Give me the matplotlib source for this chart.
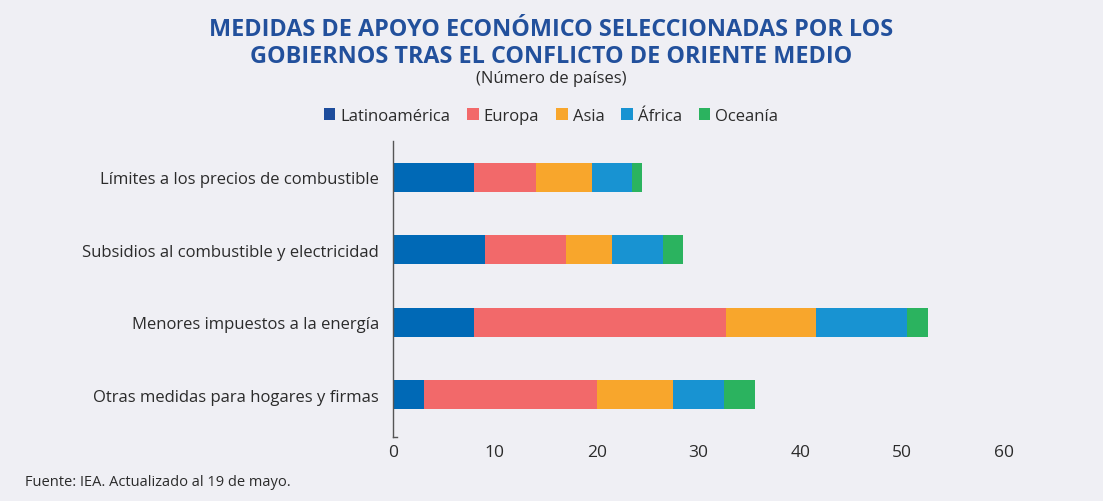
import numpy as np
import matplotlib.pyplot as plt
from matplotlib.patches import Patch

# -----------------------------
# DATA (número de países)
# -----------------------------
medidas = [
    "Límites a los precios de combustible",
    "Subsidios al combustible y electricidad",
    "Menores impuestos a la energía",
    "Otras medidas para hogares y firmas",
]
regiones = ["Latinoamérica", "Europa", "Asia", "África", "Oceanía"]

latinoamerica = [8, 9, 8, 3]
europa = [6, 8, 24.7, 17]
asia = [5.5, 4.5, 8.8, 7.5]
africa = [4, 5, 9, 5]
oceania = [1, 2, 2, 3]

x_ticks = [0, 10, 20, 30, 40, 50, 60]

# -----------------------------
# STYLE
# -----------------------------
bg = "#efeff4"
bar_colors = ["#0069b6", "#f2696a", "#f8a62c", "#1893d2", "#2bb35f"]
legend_colors = ["#1d4c9c", "#f2696a", "#f8a62c", "#1893d2", "#2bb35f"]
title_color = "#22509c"
text_color = "#2b2b2b"
plt.rcParams["font.family"] = ["Open Sans", "DejaVu Sans"]

fig = plt.figure(figsize=(11.03, 5.02), dpi=100, facecolor=bg)
ax = fig.add_axes([393 / 1103, 1 - 438 / 502, (1004 - 393) / 1103, (438 - 142) / 502])
ax.set_facecolor(bg)

series = [latinoamerica, europa, asia, africa, oceania]
y = np.arange(len(medidas))
left = np.zeros(len(medidas))
for vals, col in zip(series, bar_colors):
    ax.barh(y, vals, left=left, height=0.4, color=col, edgecolor="none")
    left = left + np.array(vals)

ax.set_xlim(0, 60)
ax.set_ylim(3.58, -0.5)
ax.set_xticks(x_ticks)
ax.set_xticklabels([str(t) for t in x_ticks], fontsize=12.5, color=text_color)
ax.set_yticks(y)
ax.set_yticklabels(medidas, fontsize=12, color=text_color)
ax.tick_params(axis="x", length=0, pad=5)
ax.tick_params(axis="y", length=0, pad=10)
for s in ["top", "right", "bottom"]:
    ax.spines[s].set_visible(False)
ax.spines["left"].set_color("#555555")
ax.spines["left"].set_linewidth(1.0)
ax.plot([0, 0.4], [3.58, 3.58], color="#555555", lw=1.0, clip_on=False)

# -----------------------------
# TITLES / LEGEND / SOURCE
# -----------------------------
fig.text(0.5, 1 - 30 / 502, "MEDIDAS DE APOYO ECONÓMICO SELECCIONADAS POR LOS",
         ha="center", va="center", fontsize=16.8, fontweight="bold", color=title_color)
fig.text(0.5, 1 - 57 / 502, "GOBIERNOS TRAS EL CONFLICTO DE ORIENTE MEDIO",
         ha="center", va="center", fontsize=16.8, fontweight="bold", color=title_color)
fig.text(0.5, 1 - 79 / 502, "(Número de países)", ha="center", va="center",
         fontsize=12, color=text_color)

handles = [Patch(facecolor=c, edgecolor="none") for c in legend_colors]
fig.legend(handles, regiones, loc="center", bbox_to_anchor=(551 / 1103, 1 - 117 / 502),
           ncol=5, frameon=False, fontsize=12, handlelength=0.7, handleheight=0.7,
           handletextpad=0.3, columnspacing=1.0, labelcolor=text_color)

fig.text(25 / 1103, 1 - 483 / 502, "Fuente: IEA. Actualizado al 19 de mayo.",
         ha="left", va="center", fontsize=10.5, color=text_color)

fig.savefig("out.png", dpi=100, facecolor=bg)
